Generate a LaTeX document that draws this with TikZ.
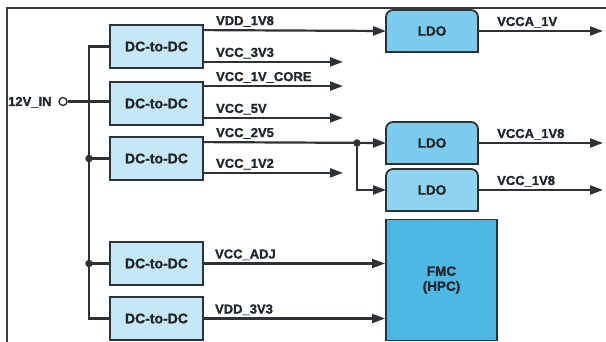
\documentclass[tikz,border=0pt]{standalone}
\usepackage{fontspec}
\setmainfont{Liberation Sans}[BoldFeatures={FakeBold=1.2}]
\usepackage{tikz}
\usetikzlibrary{arrows.meta,positioning,calc,backgrounds}
\usepackage{xcolor}
\definecolor{EdgeGray}{HTML}{2E3236}
\definecolor{FrameGray}{HTML}{3C3C3C}
\definecolor{DcBlue}{HTML}{C6E7F7}
\definecolor{LdoBlue}{HTML}{7CCBEC}
\definecolor{LdoPale}{HTML}{8FD3F0}
\definecolor{FmcBlue}{HTML}{4CB8E3}
\definecolor{InkDark}{HTML}{1F262C}

\tikzset{
  dcbox/.style={draw=EdgeGray,fill=DcBlue,line width=1.8pt,minimum width=93pt,minimum height=43pt,
    text=InkDark,font=\fontsize{14}{16}\selectfont\bfseries},
  ldobox/.style={outer sep=0pt,minimum width=92pt,minimum height=42pt,
    text=InkDark,font=\fontsize{13.5}{15}\selectfont\bfseries},
  fmcbox/.style={draw=EdgeGray,fill=FmcBlue,line width=1.8pt,minimum width=111pt,minimum height=121pt,
    align=center,text=InkDark,font=\fontsize{13.5}{15}\selectfont\bfseries},
  rail/.style={draw=EdgeGray,line width=2.2pt},
  feed/.style={rail,-{Triangle[length=13pt,width=9pt]}},
  lbl/.style={anchor=base west,inner sep=0pt,text=InkDark,font=\fontsize{13}{15}\selectfont\bfseries},
  joint/.style={circle,fill=EdgeGray,inner sep=0pt,minimum size=7.5pt},
}
\newcommand{\ldoshape}[2]{%
  \filldraw[fill=#2,draw=EdgeGray,line width=1.8pt]
    (#1.south west) [rounded corners=7pt] -- (#1.north west) -- (#1.north east)
    [sharp corners] -- (#1.south east) -- cycle;}

\begin{document}
\begin{tikzpicture}[x=1pt,y=-1pt]
\useasboundingbox (0,0) rectangle (606,342);
\draw[FrameGray,line width=1.5pt] (7,342) -- (7,8) -- (606,8);

% converters
\node[dcbox] (dc1) at (156.5,46.5) {DC-to-DC};
\node[dcbox] (dc2) at (156.5,103.5) {DC-to-DC};
\node[dcbox] (dc3) at (156.5,158.5) {DC-to-DC};
\node[dcbox] (dc4) at (156.5,263.5) {DC-to-DC};
\node[dcbox] (dc5) at (156.5,318.5) {DC-to-DC};

% regulators and connector
\node[ldobox] (ldoA) at (432,31) {LDO};
\node[ldobox] (ldoB) at (432,143) {LDO};
\node[ldobox] (ldoC) at (432,190) {LDO};
\node[fmcbox] (fmc) at (441.5,280) {FMC\\(HPC)};
\begin{scope}[on background layer]
\ldoshape{ldoA}{LdoBlue}
\ldoshape{ldoB}{LdoBlue}
\ldoshape{ldoC}{LdoPale}
\end{scope}

% input and bus
\node[lbl] (vin) at (8,106) {12V\_IN};
\node[circle,draw=EdgeGray,line width=1.4pt,fill=white,inner sep=0pt,minimum size=8pt] (vinpin) at (63,101.5) {};
\coordinate (busTop) at (89,46.5);
\coordinate (busBot) at (89,318.5);
\draw[rail] (dc1.west) -- (busTop) -- (busBot) -- (dc5.west);
\draw[rail] (vinpin) -- (vinpin -| dc2.west);
\draw[rail] (dc3.west) -- (dc3.west -| busTop) node[joint] (j3) {};
\draw[rail] (dc4.west) -- (dc4.west -| busTop) node[joint] (j4) {};

% outputs
\coordinate (stub) at (343,0);
\coordinate (edgeR) at (603,0);
\coordinate (dc1a) at ([yshift=-6pt]dc1.north east);
\coordinate (dc1b) at ([yshift=7pt]dc1.south east);
\coordinate (dc2a) at ([yshift=-5pt]dc2.north east);
\coordinate (dc2b) at ([yshift=8pt]dc2.south east);
\coordinate (dc3a) at ([yshift=-6pt]dc3.north east);
\coordinate (dc3b) at ([yshift=8pt]dc3.south east);

\draw[feed] (dc1a) -- (ldoA.west);
\node[lbl] at ([xshift=12pt,yshift=5pt]dc1a) {VDD\_1V8};
\draw[feed] (dc1b) -- (dc1b -| stub);
\node[lbl] at ([xshift=12pt,yshift=5pt]dc1b) {VCC\_3V3};
\draw[feed] (dc2a) -- (dc2a -| stub);
\node[lbl] at ([xshift=12pt,yshift=5pt]dc2a) {VCC\_1V\_CORE};
\draw[feed] (dc2b) -- (dc2b -| stub);
\node[lbl] at ([xshift=12pt,yshift=5pt]dc2b) {VCC\_5V};
\draw[feed] (dc3a) -- (ldoB.west);
\node[lbl] at ([xshift=12pt,yshift=5pt]dc3a) {VCC\_2V5};
\draw[feed] (dc3b) -- (dc3b -| stub);
\node[lbl] at ([xshift=12pt,yshift=5pt]dc3b) {VCC\_1V2};
\node[joint] (j2v5) at (357,143) {};
\draw[feed] (j2v5.center) |- (ldoC.west);

\draw[feed] (dc4.east) -- (dc4.east -| fmc.west);
\node[lbl] at ([xshift=11pt,yshift=5pt]dc4.east) {VCC\_ADJ};
\draw[feed] (dc5.east) -- (dc5.east -| fmc.west);
\node[lbl] at ([xshift=11pt,yshift=5pt]dc5.east) {VDD\_3V3};

\draw[feed] (ldoA.east) -- (ldoA.east -| edgeR);
\node[lbl] at ([xshift=19pt,yshift=5pt]ldoA.east) {VCCA\_1V};
\draw[feed] (ldoB.east) -- (ldoB.east -| edgeR);
\node[lbl] at ([xshift=19pt,yshift=5pt]ldoB.east) {VCCA\_1V8};
\draw[feed] (ldoC.east) -- (ldoC.east -| edgeR);
\node[lbl] at ([xshift=19pt,yshift=5pt]ldoC.east) {VCC\_1V8};
\end{tikzpicture}
\end{document}
